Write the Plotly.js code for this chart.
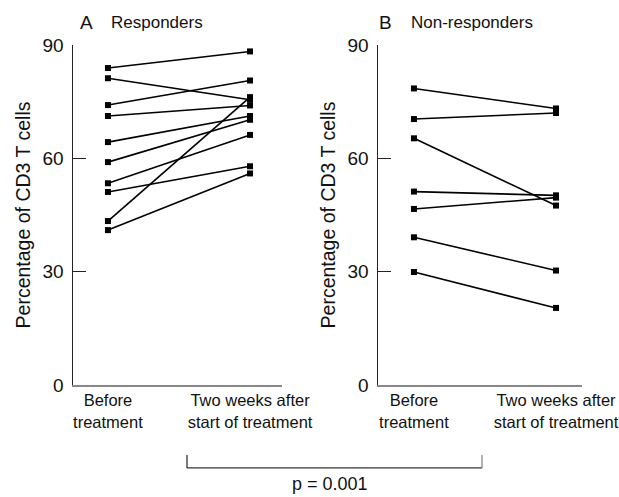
<!DOCTYPE html>
<html>
<head>
<meta charset="utf-8">
<script src="https://cdn.plot.ly/plotly-3.0.1.min.js"></script>
<style>html,body{margin:0;padding:0;background:#fff;}#chart{width:619px;height:497px;}</style>
</head>
<body>
<div id="chart"></div>
<script>
var categories = ["Before<br>treatment", "Two weeks after<br>start of treatment"];
var yTicks = [0, 30, 60, 90];
var respondersBefore = [83.9, 81.2, 74.1, 71.2, 64.3, 59.0, 53.4, 51.1, 43.4, 41.0];
var respondersAfter  = [88.3, 75.5, 80.6, 74.0, 71.2, 70.2, 66.2, 57.9, 76.2, 56.0];
var nonBefore = [78.5, 70.4, 65.3, 51.2, 46.6, 39.1, 29.9];
var nonAfter  = [73.2, 72.0, 47.5, 50.2, 49.6, 30.3, 20.4];
var panelTitles = ["A", "Responders", "B", "Non-responders"];
var pText = "p = 0.001";
var yTitle = "Percentage of CD3 T cells";

var FONT = "Liberation Sans, Arial, sans-serif";
var traces = [];
function addPairs(before, after, xa, ya) {
  for (var i = 0; i < before.length; i++) {
    traces.push({
      x: [0, 1], y: [before[i], after[i]],
      xaxis: xa, yaxis: ya, type: "scatter", mode: "lines+markers",
      line: {color: "#000", width: 1.6},
      marker: {symbol: "square", size: 6, color: "#000"},
      showlegend: false, hoverinfo: "y"
    });
  }
}
addPairs(respondersBefore, respondersAfter, "x", "y");
addPairs(nonBefore, nonAfter, "x2", "y2");

function xAxis(domain, anchor, range) {
  return {
    domain: domain, anchor: anchor, range: range,
    tickmode: "array", tickvals: [0, 1], ticktext: categories,
    showline: true, linecolor: "#888", linewidth: 1.5,
    showgrid: false, zeroline: false, ticks: "",
    ticklabeloverflow: "allow",
    tickfont: {family: FONT, size: 16.5, color: "#111"}
  };
}
function yAxis(anchor, title) {
  var ax = {
    anchor: anchor, domain: [0, 1], range: [0, 90],
    tickmode: "array", tickvals: yTicks,
    showline: true, linecolor: "#222", linewidth: 1.5,
    ticks: "inside", ticklen: 13, tickcolor: "#222", tickwidth: 1.2,
    showgrid: false, zeroline: false,
    tickfont: {family: FONT, size: 19, color: "#111"},
    ticklabelstandoff: 4
  };
  if (title) ax.title = {text: title, font: {family: FONT, size: 19.5, color: "#111"}, standoff: 6};
  return ax;
}

var W = 619;
var layout = {
  width: 619, height: 497,
  margin: {l: 0, r: 0, t: 45, b: 112},
  paper_bgcolor: "#fff", plot_bgcolor: "#fff",
  font: {family: FONT, color: "#111"},
  xaxis: xAxis([73 / W, 282 / W], "y", [-0.246, 1.225]),
  yaxis: yAxis("x", yTitle),
  xaxis2: xAxis([378 / W, 582 / W], "y2", [-0.253, 1.183]),
  yaxis2: yAxis("x2", yTitle),
  annotations: [
    {text: panelTitles[0], xref: "paper", yref: "paper", x: 86 / W, y: 1.065, showarrow: false, xanchor: "center", yanchor: "middle", font: {family: FONT, size: 19, color: "#111"}},
    {text: panelTitles[1], xref: "paper", yref: "paper", x: 109 / W, y: 1.065, showarrow: false, xanchor: "left", yanchor: "middle", font: {family: FONT, size: 17, color: "#111"}},
    {text: panelTitles[2], xref: "paper", yref: "paper", x: 385 / W, y: 1.065, showarrow: false, xanchor: "center", yanchor: "middle", font: {family: FONT, size: 19, color: "#111"}},
    {text: panelTitles[3], xref: "paper", yref: "paper", x: 409 / W, y: 1.065, showarrow: false, xanchor: "left", yanchor: "middle", font: {family: FONT, size: 17, color: "#111"}},
    {text: pText, xref: "paper", yref: "paper", x: 330 / W, y: -0.29, showarrow: false, xanchor: "center", yanchor: "middle", font: {family: FONT, size: 18, color: "#111"}}
  ],
  shapes: [
    {type: "line", xref: "paper", yref: "paper", x0: 187 / W, x1: 482 / W, y0: -0.244, y1: -0.244, line: {color: "#333", width: 1.3}},
    {type: "line", xref: "paper", yref: "paper", x0: 187 / W, x1: 187 / W, y0: -0.244, y1: -0.206, line: {color: "#333", width: 1.3}},
    {type: "line", xref: "paper", yref: "paper", x0: 482 / W, x1: 482 / W, y0: -0.244, y1: -0.206, line: {color: "#888", width: 1.3}}
  ]
};
Plotly.newPlot("chart", traces, layout, {staticPlot: true, displayModeBar: false});
</script>
</body>
</html>
